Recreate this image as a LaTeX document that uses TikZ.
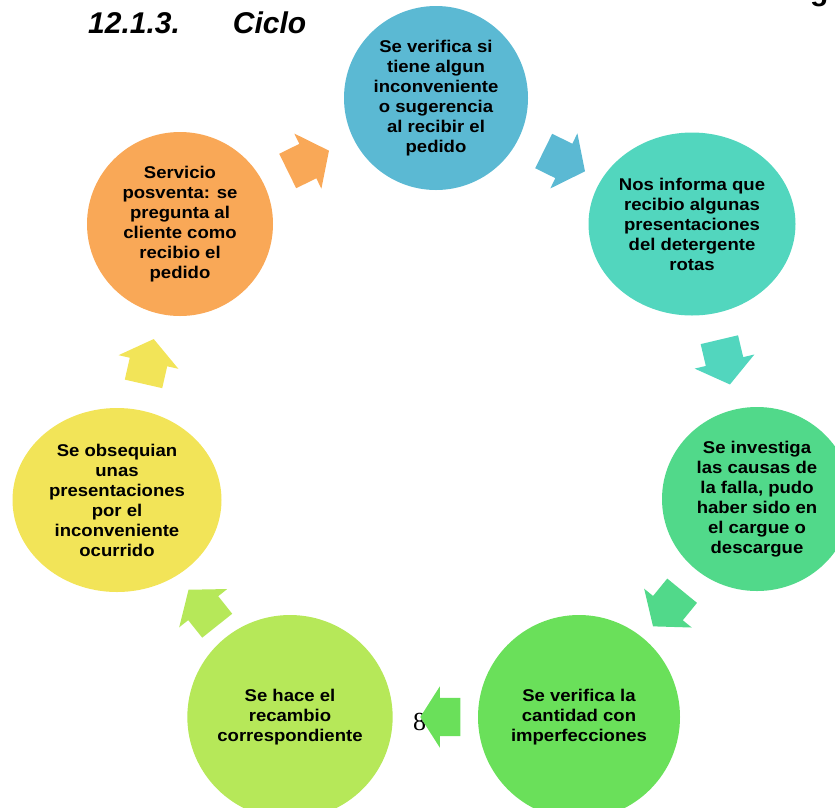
\documentclass[tikz,border=0pt]{standalone}
\usepackage{fontspec}
\setmainfont{Liberation Sans}
\newfontfamily\etapafont{Liberation Sans}[FakeStretch=1.09]
\newfontfamily\numfont{Liberation Serif}
\usetikzlibrary{shapes.geometric,shapes.arrows}
\definecolor{azul}{RGB}{91,185,211}
\definecolor{turquesa}{RGB}{82,214,190}
\definecolor{verde}{RGB}{81,217,138}
\definecolor{verdeclaro}{RGB}{106,224,90}
\definecolor{lima}{RGB}{182,232,89}
\definecolor{amarillo}{RGB}{242,228,88}
\definecolor{naranja}{RGB}{249,168,87}

\begin{document}
\begin{tikzpicture}[x=1pt,y=-1pt,
  etapa/.style={ellipse,inner sep=0pt,align=center,text=black,font=\etapafont\bfseries\fontsize{17}{20}\selectfont},
  flecha/.style={single arrow,inner xsep=0pt,inner ysep=19pt,minimum height=46pt,minimum width=61pt,
    single arrow head extend=11.5pt,single arrow tip angle=105,pos=0.42,anchor=tail,sloped,allow upside down}]
\useasboundingbox (0,0) rectangle (835,807);
\node[anchor=base west,inner sep=0pt,font=\bfseries\itshape\fontsize{30}{30}\selectfont] (titulo) at (88,33) {12.1.3.\hspace{53pt}Ciclo};
\node[anchor=base west,inner sep=0pt,font=\bfseries\fontsize{30}{30}\selectfont] (corte) at (810,0) {g};
\node[anchor=base west,inner sep=0pt,font=\numfont\fontsize{26}{26}\selectfont] (pag) at (413,730) {8};

\node[etapa,fill=azul,minimum width=184pt,minimum height=184pt] (n1) at (436,98) {Se verifica si\\tiene algun\\inconveniente\\o sugerencia\\al recibir el\\pedido};
\node[etapa,fill=turquesa,minimum width=207pt,minimum height=183pt] (n2) at (692,224) {Nos informa que\\recibio algunas\\presentaciones\\del detergente\\rotas};
\node[etapa,fill=verde,minimum width=190pt,minimum height=184pt] (n3) at (757,499) {Se investiga\\las causas de\\la falla, pudo\\haber sido en\\el cargue o\\descargue};
\node[etapa,fill=verdeclaro,minimum width=202pt,minimum height=204pt] (n4) at (579,717) {Se verifica la\\cantidad con\\imperfecciones};
\node[etapa,fill=lima,minimum width=200pt,minimum height=204pt] (n5) at (290,717) {Se hace el\\recambio\\correspondiente};
\node[etapa,fill=amarillo,minimum width=209pt,minimum height=184pt] (n6) at (117,500) {Se obsequian\\unas\\presentaciones\\por el\\inconveniente\\ocurrido};
\node[etapa,fill=naranja,minimum width=186pt,minimum height=184pt] (n7) at (180,224) {Servicio\\posventa: se\\pregunta al\\cliente como\\recibio el\\pedido};

\path (n1.center) -- (n2.center) node[flecha,fill=azul] (f1) {};
\path (n2.center) -- (n3.center) node[flecha,fill=turquesa] (f2) {};
\path (n3.center) -- (n4.center) node[flecha,fill=verde] (f3) {};
\path (n4.center) -- (n5.center) node[flecha,fill=verdeclaro,pos=0.41,minimum height=40pt,single arrow tip angle=115] (f4) {};
\path (n5.center) -- (n6.center) node[flecha,fill=lima] (f5) {};
\path (n6.center) -- (n7.center) node[flecha,fill=amarillo] (f6) {};
\path (n7.center) -- (n1.center) node[flecha,fill=naranja] (f7) {};
\end{tikzpicture}
\end{document}
